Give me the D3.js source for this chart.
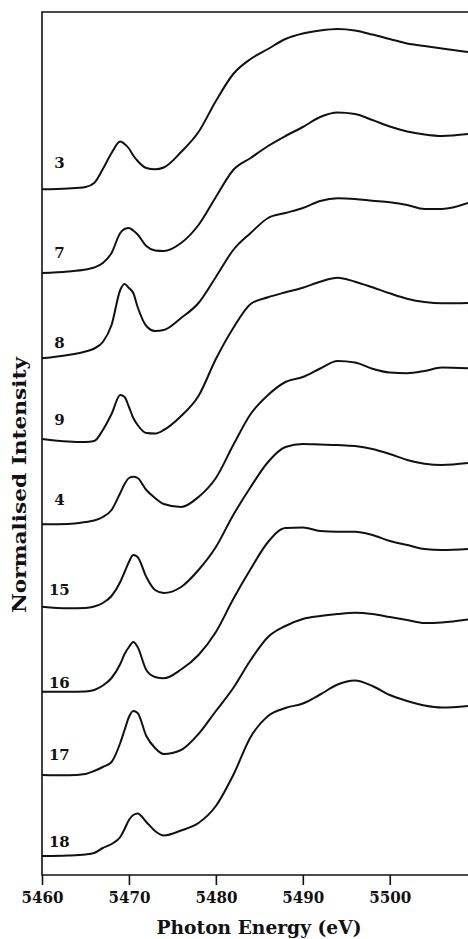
<!DOCTYPE html>
<html>
<head>
<meta charset="utf-8">
<script src="https://cdn.jsdelivr.net/npm/d3@7"></script>
<style>
  body { margin: 0; background: #fff; }
  svg { display: block; }
  text { font-family: 'DejaVu Serif', serif; font-weight: bold; fill: #111; }
</style>
</head>
<body>
<div id="chart"></div>
<script>
// photon energies (eV) shared by all spectra
var energies = [5460, 5463, 5465, 5466, 5467, 5468, 5469, 5469.5, 5470, 5470.5, 5471,
  5472, 5473, 5474, 5476, 5478, 5480, 5482, 5484, 5486, 5488, 5490, 5492, 5494,
  5496, 5498, 5500, 5502, 5504, 5506, 5509]

// stacked normalised intensities
var s3 = [6.857, 6.865, 6.88, 6.92, 7.06, 7.22, 7.335, 7.31, 7.265, 7.195, 7.14, 7.07, 7.057, 7.075, 7.23, 7.43, 7.74, 8.01, 8.16, 8.26, 8.36, 8.415, 8.445, 8.46, 8.445, 8.405, 8.36, 8.315, 8.29, 8.265, 8.23]
var s7 = [6.02, 6.035, 6.055, 6.075, 6.12, 6.22, 6.42, 6.46, 6.47, 6.445, 6.405, 6.29, 6.245, 6.24, 6.32, 6.50, 6.78, 7.05, 7.17, 7.29, 7.39, 7.48, 7.58, 7.625, 7.61, 7.55, 7.485, 7.435, 7.405, 7.39, 7.41]
var s8 = [5.167, 5.20, 5.235, 5.265, 5.33, 5.50, 5.85, 5.91, 5.87, 5.82, 5.68, 5.49, 5.44, 5.45, 5.57, 5.72, 5.98, 6.25, 6.42, 6.57, 6.62, 6.67, 6.74, 6.767, 6.76, 6.743, 6.727, 6.70, 6.66, 6.66, 6.72]
var s9 = [4.36, 4.335, 4.33, 4.34, 4.45, 4.61, 4.80, 4.78, 4.68, 4.57, 4.50, 4.42, 4.415, 4.45, 4.59, 4.79, 5.16, 5.47, 5.71, 5.777, 5.827, 5.873, 5.933, 5.973, 5.933, 5.877, 5.817, 5.763, 5.73, 5.717, 5.72]
var s4 = [3.507, 3.51, 3.53, 3.545, 3.58, 3.65, 3.82, 3.91, 3.97, 3.983, 3.97, 3.85, 3.77, 3.71, 3.68, 3.78, 3.97, 4.30, 4.61, 4.80, 4.93, 4.98, 5.065, 5.14, 5.125, 5.063, 5.025, 5.018, 5.04, 5.075, 5.067]
var s15 = [2.683, 2.667, 2.67, 2.685, 2.72, 2.79, 2.93, 3.03, 3.13, 3.20, 3.18, 2.98, 2.85, 2.82, 2.88, 3.05, 3.28, 3.60, 3.88, 4.13, 4.28, 4.31, 4.305, 4.30, 4.29, 4.26, 4.21, 4.15, 4.113, 4.10, 4.12]
var s16 = [1.833, 1.833, 1.835, 1.85, 1.895, 1.97, 2.11, 2.21, 2.28, 2.33, 2.28, 2.05, 1.98, 1.967, 2.055, 2.20, 2.43, 2.76, 3.06, 3.33, 3.47, 3.475, 3.44, 3.433, 3.433, 3.40, 3.34, 3.30, 3.26, 3.25, 3.26]
var s17 = [1.00, 0.997, 1.01, 1.04, 1.08, 1.13, 1.32, 1.45, 1.58, 1.64, 1.62, 1.39, 1.27, 1.21, 1.25, 1.41, 1.64, 1.87, 2.15, 2.38, 2.49, 2.56, 2.59, 2.61, 2.623, 2.61, 2.58, 2.55, 2.52, 2.525, 2.555]
var s18 = [0.19, 0.195, 0.205, 0.22, 0.27, 0.31, 0.38, 0.46, 0.55, 0.60, 0.615, 0.53, 0.44, 0.395, 0.445, 0.52, 0.69, 1.00, 1.38, 1.59, 1.67, 1.715, 1.805, 1.905, 1.945, 1.89, 1.80, 1.74, 1.695, 1.675, 1.69]

var samples = ['3', '7', '8', '9', '4', '15', '16', '17', '18']
var series = [s3, s7, s8, s9, s4, s15, s16, s17, s18]
// height at which each sample number sits
var labelLevels = [7.07, 6.17, 5.27, 4.50, 3.70, 2.80, 1.87, 1.15, 0.28]
var labelEnergy = 5462
var xTicks = [5460, 5470, 5480, 5490, 5500]

var W = 468, H = 939
var margin = {left: 42, top: 12, right: 0, bottom: 64}
var width = W - margin.left - margin.right
var height = H - margin.top - margin.bottom

var svg = d3.select('#chart').append('svg')
  .attr('width', W).attr('height', H)
var g = svg.append('g').attr('transform', `translate(${margin.left},${margin.top})`)

var x = d3.scaleLinear().domain([5460, 5509]).range([0, width])
var y = d3.scaleLinear().domain([0, height / 100]).range([height, 0])

// frame: left, top, bottom
g.append('path')
  .attr('d', `M${width},0H0V${height}H${width}`)
  .attr('fill', 'none').attr('stroke', '#111').attr('stroke-width', 1.6)

var xAxis = g.append('g').attr('transform', `translate(0,${height})`)
  .call(d3.axisBottom(x).tickValues(xTicks).tickSize(10).tickPadding(7).tickFormat(d3.format('d')))
xAxis.select('.domain').remove()
xAxis.selectAll('line').attr('stroke', '#111').attr('stroke-width', 1.6)
xAxis.selectAll('text')
  .attr('font-size', 16)
  .attr('font-family', "'DejaVu Serif', serif")
  .attr('font-weight', 'bold')
  .attr('fill', '#111')
  .attr('textLength', 42).attr('lengthAdjust', 'spacingAndGlyphs')

var line = d3.line()
  .x((d, i) => x(energies[i]))
  .y(d => y(d))
  .curve(d3.curveMonotoneX)

g.selectAll('path.spectrum').data(series).join('path')
  .attr('class', 'spectrum')
  .attr('d', line)
  .attr('fill', 'none')
  .attr('stroke', '#111')
  .attr('stroke-width', 2)
  .attr('stroke-linejoin', 'round')

g.selectAll('text.sample').data(samples).join('text')
  .attr('class', 'sample')
  .attr('x', x(labelEnergy))
  .attr('y', (d, i) => y(labelLevels[i]))
  .attr('text-anchor', 'middle')
  .attr('font-size', 15)
  .text(d => d)

svg.append('text')
  .attr('x', 259).attr('y', 934)
  .attr('text-anchor', 'middle')
  .attr('font-size', 18)
  .attr('textLength', 205).attr('lengthAdjust', 'spacingAndGlyphs')
  .text('Photon Energy (eV)')

svg.append('text')
  .attr('transform', 'translate(26,485) rotate(-90)')
  .attr('text-anchor', 'middle')
  .attr('font-size', 18)
  .attr('textLength', 256).attr('lengthAdjust', 'spacingAndGlyphs')
  .text('Normalised Intensity')
</script>
</body>
</html>
